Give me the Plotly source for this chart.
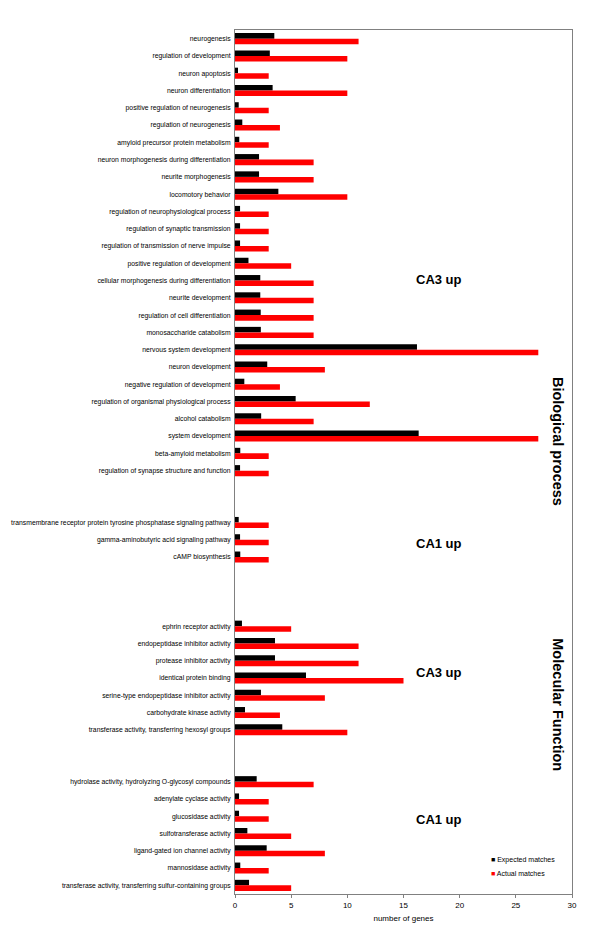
import plotly.graph_objects as go

# ---------------- data ----------------
bp_ca3_terms = [
    "neurogenesis", "regulation of development", "neuron apoptosis",
    "neuron differentiation", "positive regulation of neurogenesis",
    "regulation of neurogenesis", "amyloid precursor protein metabolism",
    "neuron morphogenesis during differentiation", "neurite morphogenesis",
    "locomotory behavior", "regulation of neurophysiological process",
    "regulation of synaptic transmission",
    "regulation of transmission of nerve impulse",
    "positive regulation of development",
    "cellular morphogenesis during differentiation", "neurite development",
    "regulation of cell differentiation", "monosaccharide catabolism",
    "nervous system development", "neuron development",
    "negative regulation of development",
    "regulation of organismal physiological process", "alcohol catabolism",
    "system development", "beta-amyloid metabolism",
    "regulation of synapse structure and function",
]
bp_ca3_expected = [3.5, 3.1, 0.27, 3.35, 0.33, 0.65, 0.38, 2.14, 2.14, 3.86,
                   0.45, 0.45, 0.45, 1.2, 2.25, 2.25, 2.29, 2.3, 16.2, 2.87,
                   0.83, 5.4, 2.33, 16.35, 0.47, 0.45]
bp_ca3_actual = [11, 10, 3, 10, 3, 4, 3, 7, 7, 10, 3, 3, 3, 5, 7, 7, 7, 7, 27,
                 8, 4, 12, 7, 27, 3, 3]

bp_ca1_terms = [
    "transmembrane receptor protein tyrosine phosphatase signaling pathway",
    "gamma-aminobutyric acid signaling pathway", "cAMP biosynthesis",
]
bp_ca1_expected = [0.33, 0.45, 0.47]
bp_ca1_actual = [3, 3, 3]

mf_ca3_terms = [
    "ephrin receptor activity", "endopeptidase inhibitor activity",
    "protease inhibitor activity", "identical protein binding",
    "serine-type endopeptidase inhibitor activity",
    "carbohydrate kinase activity",
    "transferase activity, transferring hexosyl groups",
]
mf_ca3_expected = [0.62, 3.56, 3.56, 6.32, 2.31, 0.89, 4.21]
mf_ca3_actual = [5, 11, 11, 15, 8, 4, 10]

mf_ca1_terms = [
    "hydrolase activity, hydrolyzing O-glycosyl compounds",
    "adenylate cyclase activity", "glucosidase activity",
    "sulfotransferase activity", "ligand-gated ion channel activity",
    "mannosidase activity",
    "transferase activity, transferring sulfur-containing groups",
]
mf_ca1_expected = [1.93, 0.36, 0.36, 1.1, 2.82, 0.47, 1.25]
mf_ca1_actual = [7, 3, 3, 5, 8, 3, 5]

x_ticks = [0, 5, 10, 15, 20, 25, 30]

# blank category slots between groups
groups = [
    (bp_ca3_terms, bp_ca3_expected, bp_ca3_actual, 2),
    (bp_ca1_terms, bp_ca1_expected, bp_ca1_actual, 3),
    (mf_ca3_terms, mf_ca3_expected, mf_ca3_actual, 2),
    (mf_ca1_terms, mf_ca1_expected, mf_ca1_actual, 0),
]

labels, expected, actual = [], [], []
for terms, exp_v, act_v, gap in groups:
    labels += terms
    expected += exp_v
    actual += act_v
    labels += [""] * gap
    expected += [None] * gap
    actual += [None] * gap

positions = list(range(len(labels)))
tickvals = [p for p, l in zip(positions, labels) if l]
ticktext = [l for l in labels if l]

FONT = "Liberation Sans, Arial, sans-serif"

fig = go.Figure()
fig.add_trace(go.Bar(x=expected, y=positions, orientation="h",
                     name="Expected matches", marker_color="#000000",
                     marker_line_width=0, showlegend=False))
fig.add_trace(go.Bar(x=actual, y=positions, orientation="h",
                     name="Actual matches", marker_color="#FF0000",
                     marker_line_width=0, showlegend=False))

# page body has an 8px margin, so the figure is drawn 8px smaller
fig.update_layout(
    width=592, height=931,
    margin=dict(l=227, r=28, t=22, b=45, autoexpand=False),
    paper_bgcolor="white", plot_bgcolor="white",
    barmode="group", bargap=0.36, bargroupgap=0,
    font=dict(family=FONT, color="#000000"),
    showlegend=False,
)
fig.update_xaxes(
    range=[0, 30], tickvals=x_ticks, ticks="outside", ticklen=3,
    tickcolor="#808080", tickfont=dict(size=8), automargin=False,
    showgrid=False, zeroline=False,
    showline=True, mirror=True, linecolor="#808080", linewidth=1,
    title=dict(text="number of genes", font=dict(size=8), standoff=6),
)
fig.update_yaxes(
    range=[len(labels) - 0.5, -0.5], tickvals=tickvals, ticktext=ticktext,
    ticks="", tickfont=dict(size=6.8), ticklabelstandoff=2, automargin=False,
    showgrid=False, zeroline=False,
    showline=True, mirror=True, linecolor="#808080", linewidth=1,
)

def py(pix):
    return (893.6 - pix) / 863.2

def px(pix):
    return (pix - 235) / 337.0

ann = []
for txt, yy in [("CA3 up", 270), ("CA1 up", 543), ("CA3 up", 682), ("CA1 up", 829)]:
    ann.append(dict(text="<b>%s</b>" % txt, x=px(439), y=py(yy), xref="paper",
                    yref="paper", showarrow=False, font=dict(size=13)))
for txt, yy in [("Biological process", 441), ("Molecular Function", 772.5)]:
    ann.append(dict(text="<b>%s</b>" % txt, x=px(568), y=py(yy), xref="paper",
                    yref="paper", showarrow=False, textangle=90,
                    xanchor="right", font=dict(size=14.5)))
for name, col, yy in [("Expected matches", "#000000", 866),
                      ("Actual matches", "#FF0000", 878.7)]:
    ann.append(dict(text='<span style="color:%s">■</span> %s' % (col, name),
                    x=px(489), y=py(yy), xref="paper", yref="paper",
                    xanchor="left", showarrow=False, font=dict(size=7)))
fig.update_layout(annotations=ann)

fig.write_html("out.html")
